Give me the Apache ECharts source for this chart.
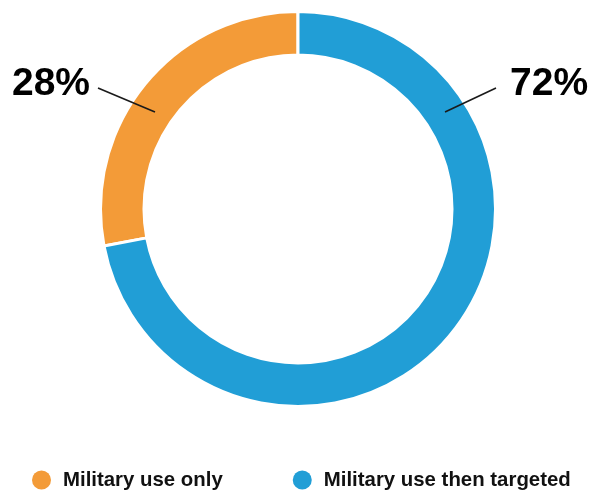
<!DOCTYPE html>
<html>
<head>
<meta charset="utf-8">
<script src="https://cdn.jsdelivr.net/npm/echarts@6/dist/echarts.min.js"></script>
<style>
html,body{margin:0;padding:0;background:#fff;}
#chart{width:591px;height:491px;}
</style>
</head>
<body>
<div id="chart"></div>
<script>
// Data
const categories = ['Military use only', 'Military use then targeted'];
const values = [28, 72];
const labelTexts = ['28%', '72%'];
const colors = ['#F39B38', '#219ED6'];

const CX = 298, CY = 209;
// label placement relative to pie centre
const labelSpec = [
  { dx: -208, dy: -125, align: 'right', line: [[-143, -97], [-200, -121]] },
  { dx: 212, dy: -125, align: 'left', line: [[147, -97], [198, -121]] }
];

const chart = echarts.init(document.getElementById('chart'), null, { renderer: 'canvas' });
const FONT = "'Liberation Sans', Arial, Helvetica, sans-serif";

const pieData = categories.map((c, i) => ({ name: c, value: values[i] }));

chart.setOption({
  animation: false,
  color: colors,
  legend: {
    data: categories,
    left: 32,
    top: 470,
    padding: 0,
    icon: 'circle',
    itemWidth: 19,
    itemHeight: 19,
    itemGap: 70,
    itemStyle: { borderWidth: 0 },
    textStyle: {
      fontFamily: FONT,
      fontSize: 20.4,
      fontWeight: 'bold',
      color: '#111',
      padding: [0, 0, 0, 7]
    }
  },
  series: [{
    type: 'pie',
    center: [CX, CY],
    radius: [154, 197.5],
    startAngle: 90,
    clockwise: false,
    silent: true,
    z: 2,
    itemStyle: { borderColor: '#fff', borderWidth: 3 },
    label: { show: false },
    labelLine: { show: false },
    data: pieData
  }, {
    type: 'pie',
    center: [CX, CY],
    radius: [154, 197.5],
    startAngle: 90,
    clockwise: false,
    silent: true,
    z: 5,
    itemStyle: { color: 'rgba(0,0,0,0)', borderWidth: 0 },
    label: {
      show: true,
      position: 'outside',
      formatter: (p) => labelTexts[p.dataIndex],
      fontFamily: FONT,
      fontSize: 39,
      fontWeight: 'bold',
      color: '#000'
    },
    labelLine: {
      show: true,
      lineStyle: { color: '#1a1a1a', width: 1.6 }
    },
    labelLayout: (params) => {
      const s = labelSpec[params.dataIndex];
      const p0 = [CX + s.line[0][0], CY + s.line[0][1]];
      const p2 = [CX + s.line[1][0], CY + s.line[1][1]];
      const p1 = [(p0[0] + p2[0]) / 2, (p0[1] + p2[1]) / 2];
      return {
        x: CX + s.dx,
        y: CY + s.dy,
        align: s.align,
        verticalAlign: 'middle',
        labelLinePoints: [p0, p1, p2]
      };
    },
    data: pieData
  }]
});
</script>
</body>
</html>
